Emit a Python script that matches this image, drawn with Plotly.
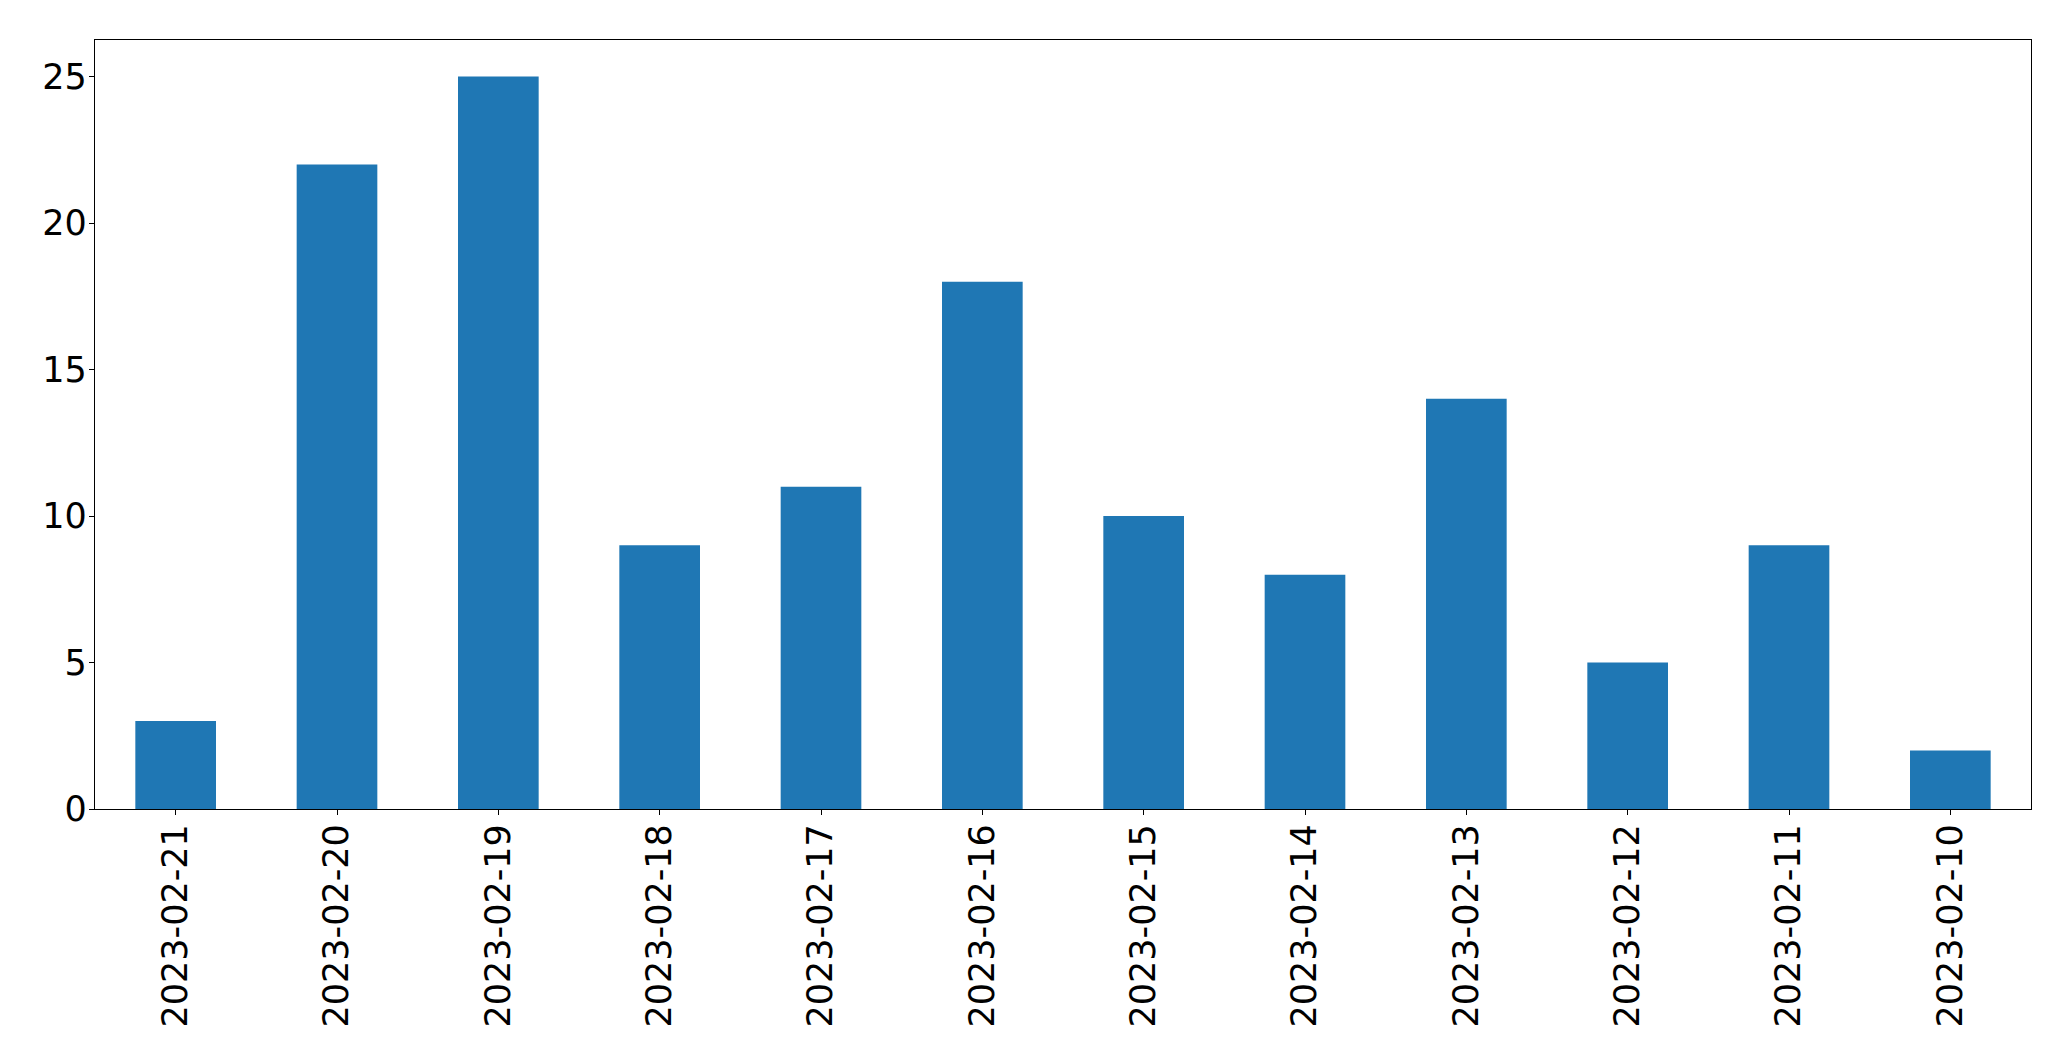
import plotly.graph_objects as go

dates = ["2023-02-21", "2023-02-20", "2023-02-19", "2023-02-18", "2023-02-17", "2023-02-16",
         "2023-02-15", "2023-02-14", "2023-02-13", "2023-02-12", "2023-02-11", "2023-02-10"]
counts = [3, 22, 25, 9, 11, 18, 10, 8, 14, 5, 9, 2]
y_ticks = [0, 5, 10, 15, 20, 25]

fig = go.Figure(go.Bar(x=dates, y=counts, marker=dict(color="#1f77b4", line=dict(width=0)), width=0.5))

font = dict(family="DejaVu Sans", size=35, color="black")
# page body has an 8px default margin, so the figure is offset by (8, 8)
fig.update_layout(
    width=2063, height=1053,
    margin=dict(l=86.5, r=39.5, t=31.5, b=252, pad=0),
    paper_bgcolor="white", plot_bgcolor="white",
    showlegend=False,
    font=font,
    bargap=0.5,
)
fig.update_xaxes(type="category", range=[-0.5, 11.5], tickangle=-90, showline=True, linecolor="black",
                 linewidth=1.3, mirror=True, ticks="outside", ticklen=5, tickwidth=1.3, tickcolor="black",
                 showgrid=False, zeroline=False, tickfont=font, automargin=False, ticklabelstandoff=-5)
fig.update_yaxes(range=[0, 26.25], tickvals=y_ticks, showline=True, linecolor="black",
                 linewidth=1.3, mirror=True, ticks="outside", ticklen=5, tickwidth=1.3, tickcolor="black",
                 showgrid=False, zeroline=False, tickfont=font, automargin=False, ticklabelstandoff=-5)

fig.write_html("out.html")
